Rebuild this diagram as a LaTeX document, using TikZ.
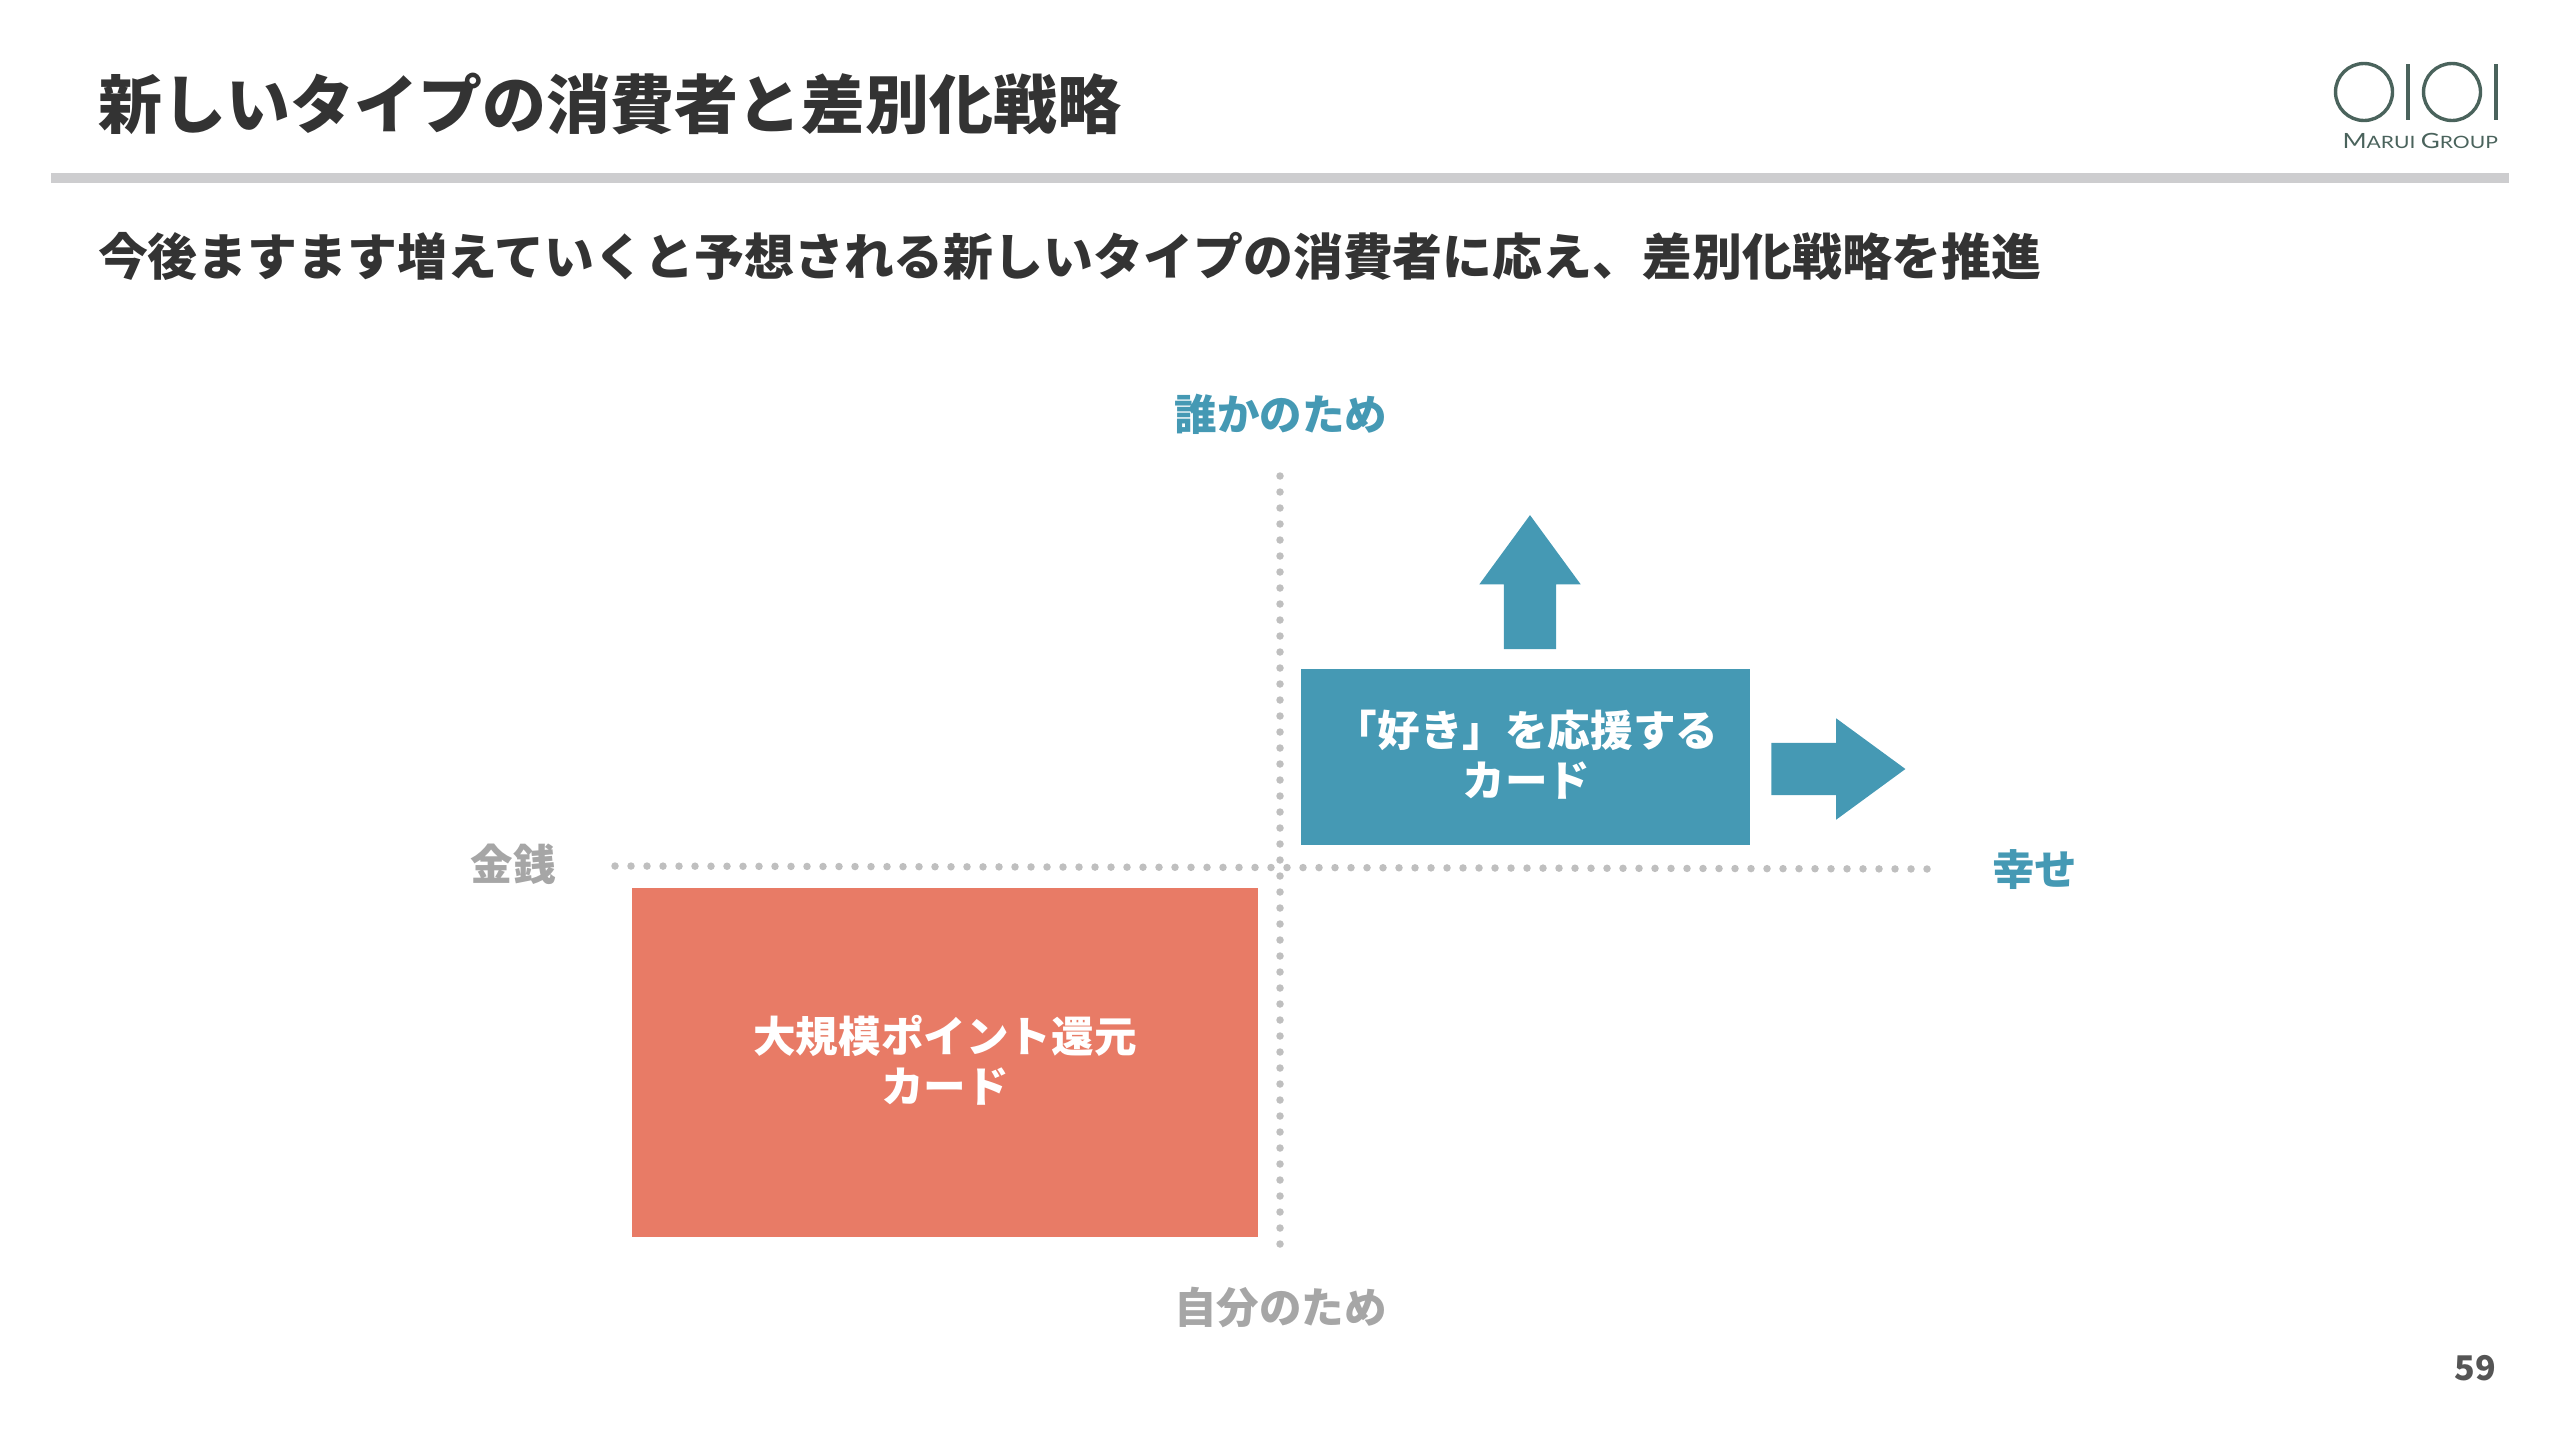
\documentclass[tikz,border=0pt]{standalone}
\usepackage{fontspec}
\setmainfont{Noto Sans CJK JP}
\newfontfamily\logofont{Lato}
\usetikzlibrary{positioning,shapes.arrows}
\definecolor{inkdark}{HTML}{333333}
\definecolor{pagegray}{HTML}{555555}
\definecolor{rulegray}{HTML}{CDCDCF}
\definecolor{axisgray}{HTML}{BFBFBF}
\definecolor{labelgray}{HTML}{A6A6A6}
\definecolor{teal}{HTML}{4599B4}
\definecolor{salmon}{HTML}{E87B66}
\definecolor{logogreen}{HTML}{4A635C}
\tikzset{
	slide/.style={
		x=1pt,y=-1pt,
		every node/.style={inner sep=0pt,outer sep=0pt},
		axis/.style={
			draw=axisgray,
			line width=7.5pt,
			line cap=round,
			dash pattern=on 0pt off 16pt
		},
		heading/.style={
			anchor=base west,
			text=inkdark,
			font=\fontsize{##1}{##1}\selectfont\bfseries
		},
		axis label/.style={
			anchor=base,
			font=\fontsize{42.5}{42.5}\selectfont\bfseries
		},
		card box/.style={
			fill=##1
		},
		card text/.style={
			align=center,
			text=white,
			font=\fontsize{42.6}{50}\selectfont\bfseries
		},
		push arrow/.style={
			single arrow,
			fill=teal,
			inner ysep=26pt,
			minimum width=101pt,
			minimum height=134pt,
			single arrow head extend=24.5pt,
			single arrow tip angle=72.4,
			single arrow head indent=0pt
		},
		logo ring/.style={
			circle,
			draw=logogreen,
			line width=3.4pt,
			minimum size=57pt
		},
		logo bar/.style={
			draw=logogreen,
			line width=3.4pt
		}
	}
}

\begin{document}
\begin{tikzpicture}[slide]
	\useasboundingbox (0,0) rectangle (2560,1440);
	% header
	\node[heading=64] (title) at (98,128) {新しいタイプの消費者と差別化戦略};
	\fill[rulegray] (51,173) rectangle (2509,183);
	\node[heading=49.9] (subtitle) at (98,275) {今後ますます増えていくと予想される新しいタイプの消費者に応え、差別化戦略を推進};
	% logo
	\node[logo ring] (ringa) at (2364,92) {};
	\node[logo ring] (ringb) at (2452,92) {};
	\coordinate (bara top) at (2408,64);
	\coordinate (bara bot) at (2408,120);
	\coordinate (barb top) at (2496,64);
	\coordinate (barb bot) at (2496,120);
	\draw[logo bar] (bara top) -- (bara bot);
	\draw[logo bar] (barb top) -- (barb bot);
	\node[anchor=base east,text=logogreen] (marui) at (2498,148) {\scalebox{1.24}[1]{\logofont\fontsize{21}{21}\selectfont M\fontsize{17}{17}\selectfont ARUI \fontsize{21}{21}\selectfont G\fontsize{17}{17}\selectfont ROUP}};
	% axes
	\coordinate (top) at (1280,476);
	\coordinate (bottom) at (1280,1245);
	\coordinate (left) at (615,866);
	\coordinate (right) at (1929,869);
	\draw[axis] (top) -- (bottom);
	\draw[axis] (left) -- (right);
	\node[axis label,text=teal] (others) at (1281,430) {誰かのため};
	\node[axis label,text=labelgray] (self) at (1280.5,1323) {自分のため};
	\node[axis label,text=labelgray] (money) at (513,880) {金銭};
	\node[axis label,text=teal] (happy) at (2034.5,885) {幸せ};
	% cards
	\node[card box=salmon,minimum width=626pt,minimum height=349pt] (points) at (945,1062.5) {};
	\node[card text] (points text) at ([yshift=2.5pt]points) {大規模ポイント還元\\カード};
	\node[card box=teal,minimum width=449pt,minimum height=176pt] (fan) at (1525.5,757) {};
	\node[card text] (fan text) at ([xshift=1pt,yshift=2.5pt]fan) {「好き」を応援する\\カード};
	\node[push arrow,rotate=90] (up) at (1530,600) {};
	\node[push arrow] (forward) at (1820.5,769) {};
	% page
	\node[anchor=base,text=pagegray,font=\fontsize{34}{34}\selectfont\bfseries] (page) at (2475,1380) {59};
\end{tikzpicture}
\end{document}
